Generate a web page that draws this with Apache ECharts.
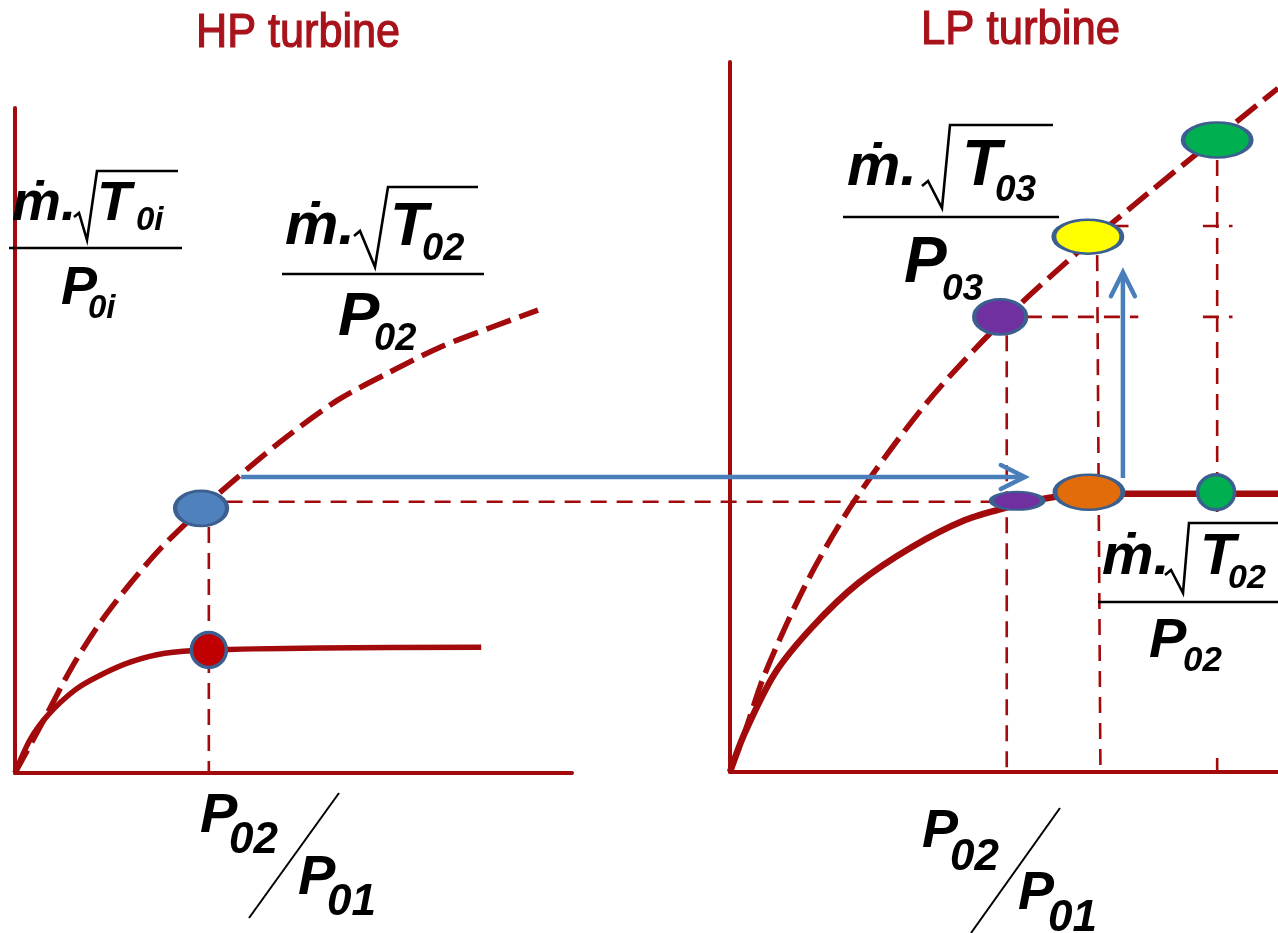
<!DOCTYPE html>
<html><head><meta charset="utf-8">
<script src="https://cdn.jsdelivr.net/npm/echarts@6/dist/echarts.min.js"></script>
<style>html,body{margin:0;padding:0;background:#fff}#c{width:1278px;height:933px}</style>
</head><body><div id="c"></div>
<script>
// ================= DATA =================
// HP turbine panel (x: pressure ratio P02/P01, y: non-dimensional mass flow), arbitrary units 0..10
const hpDashX  = [0, 0.52, 1.02, 1.53, 2.08, 2.64, 3.32, 4.00, 4.87, 5.80, 6.71, 7.65, 8.58, 9.39];
const hpDashY  = [0, 0.80, 1.59, 2.26, 2.86, 3.40, 3.95, 4.45, 5.05, 5.61, 6.02, 6.41, 6.71, 6.96];
const hpSolidX = [0, 0.27, 0.59, 1.08, 1.53, 2.08, 2.69, 3.47, 5.48, 8.37];
const hpSolidY = [0, 0.50, 0.87, 1.25, 1.47, 1.67, 1.80, 1.85, 1.88, 1.89];
// LP turbine panel
const lpDashX  = [0, 0.27, 0.64, 1.42, 2.28, 3.59, 4.93, 6.33, 7.66, 8.89, 10.0];
const lpDashY  = [0, 0.56, 1.39, 2.70, 3.83, 5.20, 6.32, 7.31, 8.17, 8.94, 9.63];
const lpSolidX = [0, 0.27, 0.82, 1.50, 2.34, 3.32, 4.29, 5.07, 5.80, 6.55, 10.0];
const lpSolidY = [0, 0.55, 1.39, 2.04, 2.66, 3.17, 3.55, 3.73, 3.86, 3.92, 3.92];
// operating points
const hpPointX = [3.34, 3.48];
const hpPointY = [3.98, 1.85];
const lpPointX = [5.24, 6.55, 8.87, 4.93, 6.53, 8.89];
const lpPointY = [3.82, 3.94, 3.94, 6.41, 7.54, 8.90];
// dashed guide segments [x1, y1, x2, y2]
const hpGuides = [[3.48, 3.70, 3.48, 0], [3.80, 4.08, 17.54, 4.08]];
const lpGuides = [[5.05, 6.15, 5.05, 0], [6.70, 7.28, 6.76, 0], [8.89, 8.62, 8.89, 0],
                  [5.40, 6.41, 7.45, 6.41], [8.63, 6.41, 9.17, 6.41],
                  [6.98, 7.69, 7.45, 7.69], [8.63, 7.69, 9.17, 7.69]];
// arrows [x1, y1, x2(tip), y2(tip)]
const hpArrows = [[4.06, 4.45, 18.13, 4.45]];
const lpArrows = [[7.17, 4.14, 7.17, 7.04]];

// ================= STYLE =================
const RED = '#a20a0c';
const BLUE = '#4a7ebb';
const BORDER = '#3b5f8f';
const ELLIPSE = 'path://M0,50A50,50,0,1,1,100,50A50,50,0,1,1,0,50Z';
const hpPointStyle = [{w: 52, h: 35, c: '#4f81bd'}, {w: 35, h: 35, c: '#c00000'}];
const lpPointStyle = [{w: 51, h: 18, c: '#7030a0'}, {w: 68, h: 35, c: '#e36c0a'}, {w: 37, h: 35, c: '#00b050'},
                      {w: 52, h: 35, c: '#7030a0'}, {w: 68, h: 34, c: '#ffff00'}, {w: 68, h: 35, c: '#00b050'}];

const zip = (a, b) => a.map((v, i) => [v, b[i]]);
const pts = (xs, ys, st) => xs.map((v, i) => ({value: [v, ys[i]], symbolSize: [st[i].w, st[i].h], itemStyle: {color: st[i].c}}));

function axes(g) {
  return {gridIndex: g, type: 'value', min: 0, max: 10,
    axisLine: {onZero: false, lineStyle: {color: RED, width: 4}},
    axisTick: {show: false}, axisLabel: {show: false}, splitLine: {show: false}};
}
function guideSeries(g, data) {
  return {type: 'custom', xAxisIndex: g, yAxisIndex: g, data: data, z: 3, silent: true,
    renderItem: (p, api) => {
      const a = api.coord([api.value(0), api.value(1)]);
      const b = api.coord([api.value(2), api.value(3)]);
      return {type: 'line', shape: {x1: a[0], y1: a[1], x2: b[0], y2: b[1]},
        style: {stroke: RED, lineWidth: 2.6, lineDash: [16, 10]}};
    }};
}
function arrowSeries(g, data) {
  return {type: 'custom', xAxisIndex: g, yAxisIndex: g, data: data, z: 8, silent: true,
    renderItem: (p, api) => {
      const a = api.coord([api.value(0), api.value(1)]);
      const b = api.coord([api.value(2), api.value(3)]);
      const dx = b[0] - a[0], dy = b[1] - a[1], L = Math.hypot(dx, dy);
      const ux = dx / L, uy = dy / L, hl = 24, hw = 12;
      const l = [b[0] - ux * hl - uy * hw, b[1] - uy * hl + ux * hw];
      const r = [b[0] - ux * hl + uy * hw, b[1] - uy * hl - ux * hw];
      return {type: 'group', children: [
        {type: 'line', shape: {x1: a[0], y1: a[1], x2: b[0] - ux * 2, y2: b[1] - uy * 2}, style: {stroke: BLUE, lineWidth: 4.5}},
        {type: 'polyline', shape: {points: [l, b, r]}, style: {stroke: BLUE, lineWidth: 4.5, fill: null, lineJoin: 'miter', lineCap: 'round'}}
      ]};
    }};
}
function curve(g, xs, ys, dashed, width) {
  return {type: 'line', xAxisIndex: g, yAxisIndex: g, data: zip(xs, ys), smooth: 0.3,
    symbol: 'none', silent: true, z: 4,
    lineStyle: {color: RED, width: width, type: dashed ? [26, 9] : 'solid', cap: 'butt'}};
}
function marks(g, xs, ys, st) {
  return {type: 'scatter', xAxisIndex: g, yAxisIndex: g, data: pts(xs, ys, st), symbol: ELLIPSE, z: 10, silent: true,
    itemStyle: {borderColor: BORDER, borderWidth: 3.5, opacity: 1}};
}

// ================= TEXT =================
const FONT = '"Liberation Sans", Arial, sans-serif';
const K = 0.83;
function tx(s, x, base, fs) {
  return {type: 'text', z: 60, x: x, y: base - K * fs, silent: true,
    style: {text: s, font: 'italic bold ' + fs + 'px ' + FONT, fill: '#000',
      align: 'left', verticalAlign: 'top'}};
}
function title(s, x, base, fs, sx) {
  return {type: 'text', z: 60, x: x, y: base - K * fs, scaleX: sx, silent: true,
    style: {text: s, font: fs + 'px ' + FONT, fill: '#a8121a', stroke: '#a8121a', lineWidth: 1.2,
      align: 'left', verticalAlign: 'top', shadowColor: 'rgba(168,18,26,0.6)', shadowBlur: 2}};
}
function ln(x1, y1, x2, y2, w) {
  return {type: 'line', z: 60, silent: true, shape: {x1, y1, x2, y2}, style: {stroke: '#000', lineWidth: w || 2.6}};
}
function rad(points) {
  return {type: 'polyline', z: 60, silent: true, shape: {points: points},
    style: {stroke: '#000', lineWidth: 2.6, fill: null, lineJoin: 'miter'}};
}
const graphics = [
  title('HP turbine', 196, 50, 48, 0.9),
  title('LP turbine', 921, 47, 48, 0.91),
  // left y label
  tx('ṁ.', 12, 223, 55), rad([[74,217],[79,213],[87,240],[97,171],[178,171]]),
  tx('T', 97, 223, 56), tx('0i', 136, 232, 33), ln(9,248,182,248), tx('P', 61, 307, 54), tx('0i', 88, 320, 33),
  // HP curve label
  tx('ṁ.', 285, 247, 60), rad([[354,236],[360,231],[375,267],[388,187],[478,187]]),
  tx('T', 390, 248, 62), tx('02', 422, 262, 38), ln(282,274,484,274), tx('P', 338, 338, 62), tx('02', 374, 352, 38),
  // LP curve label
  tx('ṁ.', 847, 188, 60), rad([[922,186],[928,181],[942,208],[950,125],[1053,125]]),
  tx('T', 962, 188, 64), tx('03', 995, 203, 37), ln(843,217,1059,217), tx('P', 904, 285, 64), tx('03', 942, 302, 37),
  // LP bottom-right label with white box
  {type: 'rect', z: 55, silent: true, shape: {x: 1108, y: 512, width: 170, height: 238}, style: {fill: '#fff'}},
  tx('ṁ.', 1102, 577, 58), rad([[1165,575],[1171,570],[1183,593],[1189,523],[1278,523]]),
  tx('T', 1200, 577, 58), tx('02', 1228, 590, 34), ln(1098,602,1278,602), tx('P', 1149, 660, 56), tx('02', 1183, 673, 35),
  // HP x label
  tx('P', 200, 835, 56), tx('02', 229, 855, 44), ln(339,793,249,918,2), tx('P', 298, 897, 56), tx('01', 327, 917, 44),
  // LP x label
  tx('P', 922, 850, 54), tx('02', 950, 872, 44), ln(1060,808,971,933,2), tx('P', 1018, 912, 54), tx('01', 1048, 933, 44)
];

const chart = echarts.init(document.getElementById('c'), null, {renderer: 'canvas'});
chart.setOption({
  animation: false,
  backgroundColor: '#fff',
  grid: [{left: 15, top: 108, width: 557, height: 665}, {left: 730, top: 62, width: 548, height: 710}],
  xAxis: [axes(0), axes(1)],
  yAxis: [axes(0), axes(1)],
  series: [
    guideSeries(0, hpGuides), guideSeries(1, lpGuides),
    curve(0, hpDashX, hpDashY, true, 5.5), curve(0, hpSolidX, hpSolidY, false, 5.5),
    curve(1, lpDashX, lpDashY, true, 5.5), curve(1, lpSolidX, lpSolidY, false, 6.5),
    arrowSeries(0, hpArrows), arrowSeries(1, lpArrows),
    marks(0, hpPointX, hpPointY, hpPointStyle), marks(1, lpPointX, lpPointY, lpPointStyle)
  ],
  graphic: {elements: graphics}
});
</script></body></html>
